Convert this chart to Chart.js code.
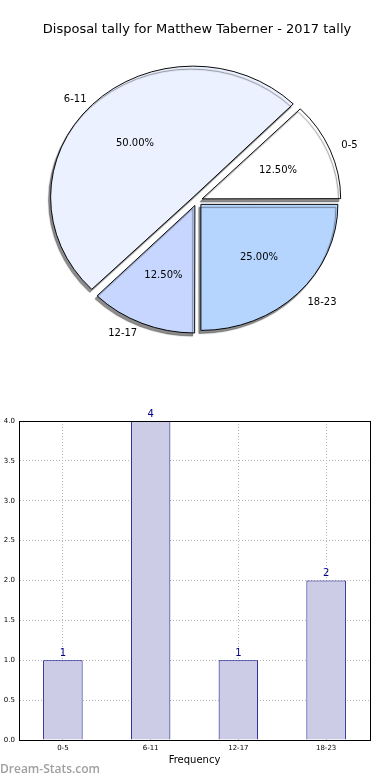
<!DOCTYPE html>
<html>
<head>
<meta charset="utf-8">
<script src="https://cdn.jsdelivr.net/npm/chart.js@4.4.0/dist/chart.umd.min.js"></script>
<style>
  body { margin: 0; background: #fff; width: 390px; height: 780px; position: relative; overflow: hidden; font-family: "DejaVu Sans", sans-serif; }
  #pieBox { position: absolute; left: 0; top: 0; width: 390px; height: 380px; }
  #barBox { position: absolute; left: 0; top: 400px; width: 390px; height: 380px; }
  #mark { position: absolute; left: 0; top: 760px; font: 600 12px "Open Sans", sans-serif; color: #a0a0a0; }
</style>
</head>
<body>
<div id="pieBox"><canvas id="pie" width="390" height="380"></canvas></div>
<div id="barBox"><canvas id="bar" width="390" height="380"></canvas></div>
<div id="mark">Dream-Stats.com</div>
<script>
// data
const categories = ['0-5', '6-11', '12-17', '18-23'];
const tally = [1, 4, 1, 2];
const pieColors = ['#ffffff', '#ebf1ff', '#c6d6ff', '#b5d5ff'];
const yTicks = [0, 0.5, 1, 1.5, 2, 2.5, 3, 3.5, 4];

const total = tally.reduce((a, b) => a + b, 0);
const squashY = 0.92; // matplotlib pie here is a little flattened

// matplotlib goes counter-clockwise from 3 o'clock, chart.js clockwise -> reverse
const pieLabels = categories.slice().reverse();
const pieData = tally.slice().reverse();
const pieFill = pieColors.slice().reverse();

const pieLook = {
  id: 'pieLook',
  beforeDatasetsDraw(chart) {
    const a = chart.getDatasetMeta(0).data[0];
    const ctx = chart.ctx;
    ctx.save();
    ctx.translate(a.x, a.y);
    ctx.scale(1, squashY);
    ctx.translate(-a.x, -a.y);
    ctx.shadowColor = 'rgba(0,0,0,0.45)';
    ctx.shadowOffsetX = -2;
    ctx.shadowOffsetY = 3;
    ctx.shadowBlur = 1;
  },
  afterDatasetsDraw(chart) {
    const ctx = chart.ctx;
    ctx.restore();
    ctx.save();
    ctx.fillStyle = '#000';
    ctx.font = '10px "DejaVu Sans"';
    ctx.textBaseline = 'middle';
    chart.getDatasetMeta(0).data.forEach((el, i) => {
      const mid = (el.startAngle + el.endAngle) / 2;
      const off = (el.options.offset || 0) / 4; // arc element draws offset / 4
      const r = el.outerRadius;
      const pos = (k) => ({
        x: el.x + Math.cos(mid) * (off + r * k),
        y: el.y + Math.sin(mid) * (off + r * k) * squashY
      });
      const p = pos(0.6);
      ctx.textAlign = 'center';
      ctx.fillText((pieData[i] / total * 100).toFixed(2) + '%', p.x, p.y);
      const q = pos(1.1);
      ctx.textAlign = Math.cos(mid) >= 0 ? 'left' : 'right';
      ctx.fillText(pieLabels[i], q.x, q.y);
    });
    ctx.restore();
  }
};

new Chart(document.getElementById('pie'), {
  type: 'pie',
  plugins: [pieLook],
  data: {
    labels: pieLabels,
    datasets: [{
      data: pieData,
      backgroundColor: pieFill,
      borderColor: '#000',
      borderWidth: 1,
      offset: 22,
      hoverOffset: 22,
      clip: false
    }]
  },
  options: {
    responsive: false,
    animation: false,
    rotation: 90,
    radius: 137,
    layout: { padding: { bottom: 26, left: 4 } },
    plugins: {
      legend: { display: false },
      tooltip: { enabled: false },
      title: {
        display: true,
        text: 'Disposal tally for Matthew Taberner - 2017 tally',
        color: '#000',
        font: { family: 'DejaVu Sans', size: 13, weight: 'normal' },
        padding: { top: 22, bottom: 10 }
      }
    }
  }
});

const frame = {
  id: 'frame',
  afterDraw(chart) {
    const { ctx, chartArea: a } = chart;
    ctx.save();
    ctx.strokeStyle = '#000';
    ctx.lineWidth = 1;
    ctx.strokeRect(Math.round(a.left) + 0.5, Math.round(a.top) + 0.5, Math.round(a.right - a.left), Math.round(a.bottom - a.top));
    // value labels above bars
    ctx.fillStyle = '#000080';
    ctx.font = '10px "DejaVu Sans"';
    ctx.textAlign = 'center';
    ctx.textBaseline = 'bottom';
    chart.getDatasetMeta(0).data.forEach((el, i) => {
      ctx.fillText(String(tally[i]), el.x, el.y - 2);
    });
    ctx.restore();
  }
};

const gridStyle = { color: '#b4b4b4', lineWidth: 1, drawTicks: false };

new Chart(document.getElementById('bar'), {
  type: 'bar',
  plugins: [frame],
  data: {
    labels: categories,
    datasets: [{
      data: tally,
      backgroundColor: '#ccccE6',
      borderColor: '#000080',
      borderWidth: 1,
      barPercentage: 0.45,
      categoryPercentage: 1
    }]
  },
  options: {
    responsive: false,
    animation: false,
    layout: { padding: { top: 21, right: 20, left: 0, bottom: 0 } },
    plugins: { legend: { display: false }, tooltip: { enabled: false } },
    scales: {
      x: {
        grid: Object.assign({ offset: false }, gridStyle),
        border: { display: true, color: '#000', dash: [1, 2] },
        ticks: { color: '#000', font: { family: 'DejaVu Sans', size: 7 }, padding: 4, maxRotation: 0 },
        title: {
          display: true, text: 'Frequency', color: '#000',
          font: { family: 'DejaVu Sans', size: 10 }, padding: { top: 0, bottom: 14 }
        },
        afterFit(s) { s.height = 40; }
      },
      y: {
        min: 0,
        max: 4,
        afterBuildTicks(s) { s.ticks = yTicks.map(v => ({ value: v })); },
        grid: gridStyle,
        border: { display: true, color: '#000', dash: [1, 2] },
        ticks: {
          color: '#000', font: { family: 'DejaVu Sans', size: 7 }, padding: 4,
          callback: v => Number(v).toFixed(1)
        },
        afterFit(s) { s.width = 19; }
      }
    }
  }
});
</script>
</body>
</html>
